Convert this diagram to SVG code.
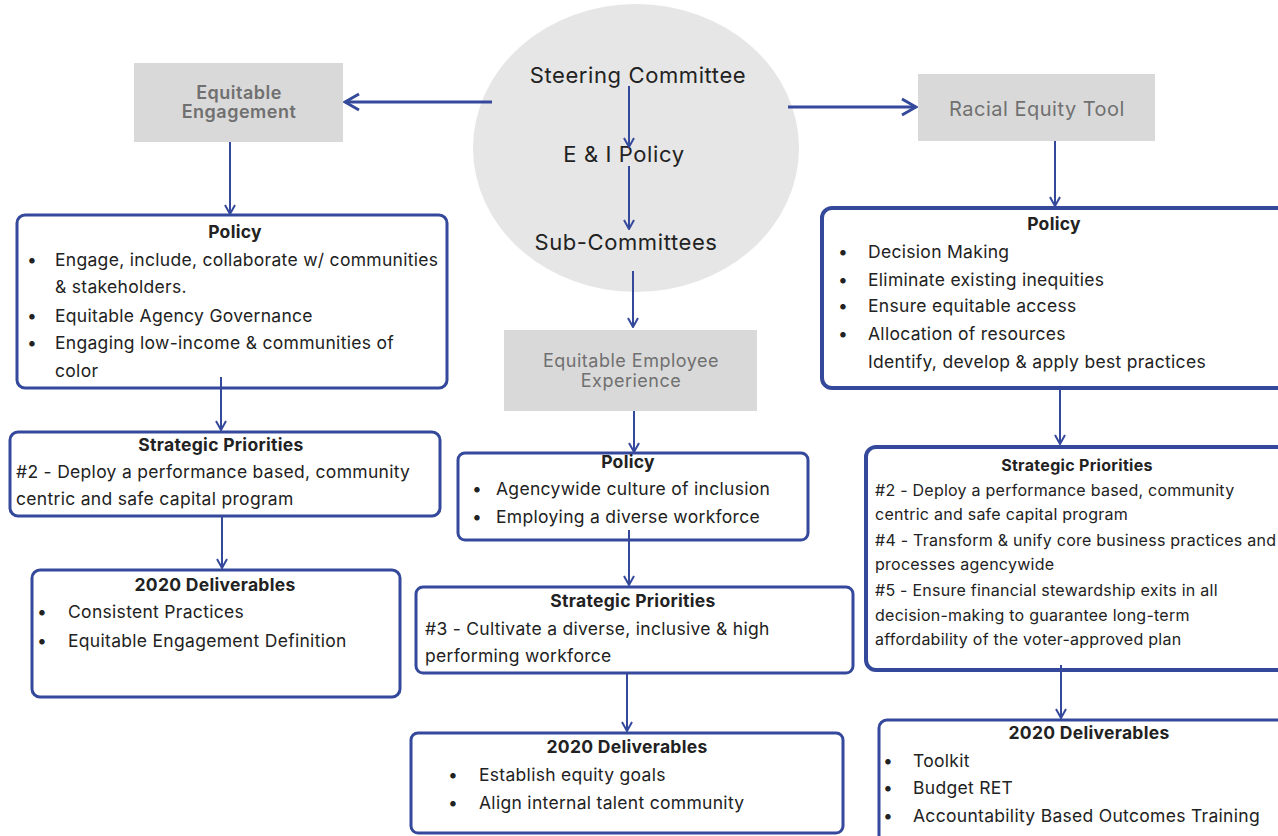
<svg xmlns="http://www.w3.org/2000/svg" width="1278" height="836" viewBox="0 0 1278 836">
<defs>
<marker id="ah" viewBox="0 0 12 12" refX="11" refY="6" markerWidth="12" markerHeight="12" markerUnits="userSpaceOnUse" orient="auto">
<path d="M2,1 L11,6 L2,11" fill="none" stroke="#34499b" stroke-width="2"/>
</marker>
<marker id="ahb" viewBox="0 0 20 20" refX="18" refY="10" markerWidth="20" markerHeight="20" markerUnits="userSpaceOnUse" orient="auto">
<path d="M4,2 L18,10 L4,18" fill="none" stroke="#34499b" stroke-width="3"/>
</marker>
</defs>
<style>
text{font-family:Inter,"Liberation Sans",sans-serif;fill:#222;}
.t{font-size:17.5px;letter-spacing:0.3px;}
.s{font-size:16px;letter-spacing:0.25px;}
.h{font-size:17.5px;font-weight:700;text-anchor:middle;letter-spacing:0.3px;}
.g{fill:#d9d9d9;}
.gt{fill:#707070;font-size:18px;text-anchor:middle;letter-spacing:0.5px;}
.box{fill:#fff;stroke:#34499b;stroke-width:3;}
.boxb{fill:#fff;stroke:#34499b;stroke-width:4;}
.c{fill:none;stroke:#34499b;stroke-width:2;}
.cb{fill:none;stroke:#34499b;stroke-width:3;}
.ct{font-size:22px;text-anchor:middle;letter-spacing:0.6px;}
</style>
<rect width="1278" height="836" fill="#fff"/>

<g id="steering">
<ellipse cx="636" cy="148" rx="163" ry="144" fill="#e6e6e6"/>
<text class="ct" x="638" y="83">Steering Committee</text>
<text class="ct" x="624" y="162">E &amp; I Policy</text>
<text class="ct" x="626" y="250">Sub-Committees</text>
</g>

<g id="eq-engagement">
<rect class="g" x="134" y="63" width="209" height="79"/>
<text class="gt" x="239" y="99" style="font-weight:600">Equitable</text>
<text class="gt" x="239" y="118" style="font-weight:600">Engagement</text>
</g>

<g id="racial-tool">
<rect class="g" x="918" y="74" width="237" height="67"/>
<text class="gt" x="1037" y="116" style="font-size:20px">Racial Equity Tool</text>
</g>

<g id="eq-employee">
<rect class="g" x="504" y="330" width="253" height="81"/>
<text class="gt" x="631" y="367">Equitable Employee</text>
<text class="gt" x="631" y="387">Experience</text>
</g>

<g id="left-policy">
<rect class="box" x="17" y="215" width="430" height="173" rx="8"/>
<text class="h" x="235" y="238">Policy</text>
<text class="t" x="27" y="266">•</text><text class="t" x="55" y="266">Engage, include, collaborate w/ communities</text>
<text class="t" x="55" y="293">&amp; stakeholders.</text>
<text class="t" x="27" y="322">•</text><text class="t" x="55" y="322">Equitable Agency Governance</text>
<text class="t" x="27" y="349">•</text><text class="t" x="55" y="349">Engaging low-income &amp; communities of</text>
<text class="t" x="55" y="377">color</text>
</g>

<g id="left-strategic">
<rect class="box" x="10" y="432" width="430" height="84" rx="8"/>
<text class="h" x="221" y="451">Strategic Priorities</text>
<text class="t" x="16" y="478">#2 - Deploy a performance based, community</text>
<text class="t" x="16" y="505">centric and safe capital program</text>
</g>

<g id="left-deliverables">
<rect class="box" x="32" y="570" width="368" height="127" rx="8"/>
<text class="h" x="215" y="591">2020 Deliverables</text>
<text class="t" x="37" y="618">•</text><text class="t" x="68" y="618">Consistent Practices</text>
<text class="t" x="37" y="647">•</text><text class="t" x="68" y="647">Equitable Engagement Definition</text>
</g>

<g id="mid-policy">
<rect class="box" x="458" y="453" width="350" height="87" rx="7"/>
<text class="h" x="628" y="468">Policy</text>
<text class="t" x="472" y="495">•</text><text class="t" x="496" y="495">Agencywide culture of inclusion</text>
<text class="t" x="472" y="523">•</text><text class="t" x="496" y="523">Employing a diverse workforce</text>
</g>

<g id="mid-strategic">
<rect class="box" x="416" y="587" width="437" height="86" rx="7"/>
<text class="h" x="633" y="607">Strategic Priorities</text>
<text class="t" x="425" y="635">#3 - Cultivate a diverse, inclusive &amp; high</text>
<text class="t" x="425" y="662">performing workforce</text>
</g>

<g id="mid-deliverables">
<rect class="box" x="411" y="733" width="432" height="100" rx="7"/>
<text class="h" x="627" y="753">2020 Deliverables</text>
<text class="t" x="448" y="781">•</text><text class="t" x="479" y="781">Establish equity goals</text>
<text class="t" x="448" y="809">•</text><text class="t" x="479" y="809">Align internal talent community</text>
</g>

<g id="right-policy">
<rect class="boxb" x="822" y="208" width="470" height="180" rx="10"/>
<text class="h" x="1054" y="230">Policy</text>
<text class="t" x="838" y="258">•</text><text class="t" x="868" y="258">Decision Making</text>
<text class="t" x="838" y="286">•</text><text class="t" x="868" y="286">Eliminate existing inequities</text>
<text class="t" x="838" y="312">•</text><text class="t" x="868" y="312">Ensure equitable access</text>
<text class="t" x="838" y="340">•</text><text class="t" x="868" y="340">Allocation of resources</text>
<text class="t" x="868" y="368">Identify, develop &amp; apply best practices</text>
</g>

<g id="right-strategic">
<rect class="boxb" x="866" y="447" width="426" height="223" rx="10"/>
<text class="h" x="1077" y="471" style="font-size:16px">Strategic Priorities</text>
<text class="s" x="875" y="496">#2 - Deploy a performance based, community</text>
<text class="s" x="875" y="520">centric and safe capital program</text>
<text class="s" x="875" y="546">#4 - Transform &amp; unify core business practices and</text>
<text class="s" x="875" y="570">processes agencywide</text>
<text class="s" x="875" y="596">#5 - Ensure financial stewardship exits in all</text>
<text class="s" x="875" y="621">decision-making to guarantee long-term</text>
<text class="s" x="875" y="645">affordability of the voter-approved plan</text>
</g>

<g id="right-deliverables">
<rect class="box" x="879" y="720" width="413" height="130" rx="8"/>
<text class="h" x="1089" y="739">2020 Deliverables</text>
<text class="t" x="883" y="767">•</text><text class="t" x="913" y="767">Toolkit</text>
<text class="t" x="883" y="794">•</text><text class="t" x="913" y="794">Budget RET</text>
<text class="t" x="883" y="822">•</text><text class="t" x="913" y="822">Accountability Based Outcomes Training</text>
</g>

<g id="connectors">
<line class="cb" x1="492" y1="102" x2="345" y2="102" marker-end="url(#ahb)"/>
<line class="cb" x1="788" y1="107" x2="916" y2="107" marker-end="url(#ahb)"/>
<line class="c" x1="629" y1="86" x2="629" y2="147" marker-end="url(#ah)"/>
<line class="c" x1="629" y1="166" x2="629" y2="229" marker-end="url(#ah)"/>
<line class="c" x1="633" y1="271" x2="633" y2="327" marker-end="url(#ah)"/>
<line class="c" x1="230" y1="142" x2="230" y2="214" marker-end="url(#ah)"/>
<line class="c" x1="1055" y1="141" x2="1055" y2="206" marker-end="url(#ah)"/>
<line class="c" x1="221" y1="377" x2="221" y2="430" marker-end="url(#ah)"/>
<line class="c" x1="222" y1="516" x2="222" y2="568" marker-end="url(#ah)"/>
<line class="c" x1="634" y1="411" x2="634" y2="452" marker-end="url(#ah)"/>
<line class="c" x1="629" y1="530" x2="629" y2="585" marker-end="url(#ah)"/>
<line class="c" x1="627" y1="673" x2="627" y2="731" marker-end="url(#ah)"/>
<line class="c" x1="1060" y1="390" x2="1060" y2="444" marker-end="url(#ah)"/>
<line class="c" x1="1061" y1="665" x2="1061" y2="718" marker-end="url(#ah)"/>
</g>
</svg>
